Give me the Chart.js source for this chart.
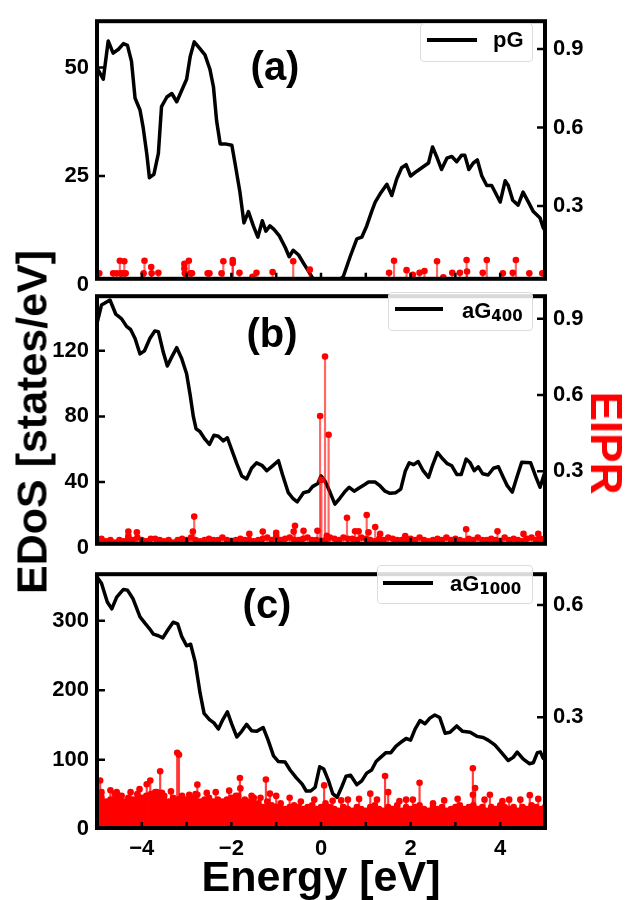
<!DOCTYPE html>
<html>
<head>
<meta charset="utf-8">
<script src="https://cdn.jsdelivr.net/npm/chart.js@4.4.0/dist/chart.umd.min.js"></script>
<style>
  body { margin: 0; background: #fff; width: 635px; height: 900px; position: relative; overflow: hidden;
         font-family: "Liberation Sans", Arial, sans-serif; font-weight: bold; color: #000; }
  canvas { position: absolute; left: 0; }
  .txt { position: absolute; line-height: 1; white-space: nowrap; transform: translate(-50%, -50%); }
  .panel { font-size: 40px; }
  .legbox { position: absolute; border: 1px solid #dcdcdc; border-radius: 4px; background: rgba(255,255,255,0.85); box-sizing: border-box; }
  .legline { position: absolute; height: 4px; background: #000; }
  .legtxt { position: absolute; font-size: 22px; line-height: 1; white-space: nowrap; }
  .legtxt sub { font-family: "DejaVu Sans", sans-serif; font-size: 15px; vertical-align: -3px; }
</style>
</head>
<body>
<canvas id="chartA" width="635" height="300" style="top:0px"></canvas>
<canvas id="chartB" width="635" height="290" style="top:275px"></canvas>
<canvas id="chartC" width="635" height="347" style="top:553px"></canvas>

<div class="txt panel" style="left:275px;top:66px">(a)</div>
<div class="txt panel" style="left:272px;top:333px">(b)</div>
<div class="txt panel" style="left:267px;top:604px">(c)</div>

<div class="legbox" style="left:420px;top:23px;width:113px;height:39px"></div>
<div class="legline" style="left:427px;top:38px;width:50px"></div>
<div class="legtxt" style="left:493px;top:29px">pG</div>

<div class="legbox" style="left:388px;top:292px;width:145px;height:39px"></div>
<div class="legline" style="left:395px;top:307px;width:48px"></div>
<div class="legtxt" style="left:462px;top:300px">aG<sub>400</sub></div>

<div class="legbox" style="left:377px;top:565px;width:156px;height:39px"></div>
<div class="legline" style="left:383px;top:581px;width:50px"></div>
<div class="legtxt" style="left:450px;top:573px">aG<sub>1000</sub></div>

<div class="txt" style="left:32px;top:422px;font-size:43px;transform:translate(-50%,-50%) rotate(-90deg)">EDoS [states/eV]</div>
<div class="txt" style="left:606px;top:443px;font-size:44px;color:#ff0000;transform:translate(-50%,-50%) rotate(90deg)">EIPR</div>
<div class="txt" style="left:321px;top:876px;font-size:43px">Energy [eV]</div>

<script>
// x ticks (inward, every 1 eV)
const xMinorTicks = [-4, -3, -2, -1, 0, 1, 2, 3, 4];

// (a) pG: density of states
const dosAx = [-5.0, -4.86, -4.75, -4.64, -4.52, -4.41, -4.32, -4.23, -4.15, -4.04, -3.97, -3.89, -3.83, -3.73, -3.63, -3.56, -3.44, -3.33, -3.22, -3.11,
  -3.0, -2.92, -2.83, -2.74, -2.59, -2.48, -2.4, -2.33, -2.25, -2.14, -1.99, -1.92, -1.81, -1.72, -1.62, -1.51, -1.41, -1.31, -1.23, -1.14,
  -1.05, -0.93, -0.8, -0.71, -0.62, -0.5, -0.39, -0.28, -0.17, -0.1, 0.3, 0.5, 0.65, 0.8, 0.91, 1.02, 1.13, 1.21, 1.32, 1.47,
  1.58, 1.69, 1.8, 1.9, 2.0, 2.14, 2.25, 2.4, 2.49, 2.58, 2.69, 2.81, 2.92, 3.03, 3.14, 3.21, 3.3, 3.4, 3.49, 3.59,
  3.7, 3.81, 4.0, 4.11, 4.18, 4.28, 4.4, 4.51, 4.63, 4.74, 4.89, 4.96, 5.0];
const dosAy = [49.9, 47.3, 56.1, 53.3, 54.2, 55.5, 55.1, 51.4, 42.9, 40.2, 36.2, 30.2, 24.6, 25.4, 30.2, 41, 43.2, 44, 42.1, 44.7,
  47.3, 52.5, 55.9, 54.8, 52.9, 49.6, 45.5, 37.7, 32.4, 32.4, 32.1, 28, 21.3, 14.2, 16.8, 13.5, 10.9, 14.7, 12.3, 13.5,
  12.7, 11.2, 8.6, 6.4, 7.9, 6.8, 4.9, 3.1, 1.2, 0, 0, 1.9, 6.4, 10.5, 10.9, 13.5, 16.8, 19, 20.9, 23.1,
  20.5, 24.3, 26.9, 27.6, 25, 26.1, 26.9, 28, 31.7, 29.5, 26.5, 29.1, 29.5, 28.3, 29.8, 29.8, 26.5, 28, 28.7, 25,
  22.8, 22.8, 19, 23.9, 22.8, 19.4, 18.3, 21.3, 19, 16.8, 15.3, 13.1, 12.5];

// (a) EIPR states
const eiprAx = [-4.95, -4.64, -4.56, -4.49, -4.47, -4.43, -4.39, -4.36, -3.96, -3.94, -3.79, -3.78, -3.63, -3.05, -3.05, -3.04, -2.95, -2.91, -2.88, -2.53,
  -2.49, -2.22, -2.18, -1.97, -1.97, -1.82, -1.53, -1.44, -1.08, -0.62, -0.25, 1.52, 1.63, 1.91, 2.05, 2.2, 2.31, 2.59, 2.73, 2.93,
  3.1, 3.25, 3.26, 3.61, 3.7, 4.06, 4.28, 4.35, 4.65, 4.94];
const eiprAv = [0.043, 0.043, 0.043, 0.091, 0.043, 0.043, 0.089, 0.043, 0.043, 0.091, 0.067, 0.043, 0.045, 0.079, 0.061, 0.043, 0.091, 0.043, 0.043, 0.043,
  0.043, 0.043, 0.089, 0.094, 0.082, 0.045, 0.030, 0.045, 0.048, 0.089, 0.057, 0.045, 0.091, 0.055, 0.037, 0.045, 0.052, 0.089, 0.028, 0.045,
  0.045, 0.094, 0.050, 0.045, 0.094, 0.043, 0.045, 0.094, 0.043, 0.043];

// (b) aG400: density of states
const dosBx = [-5.0, -4.9, -4.71, -4.58, -4.45, -4.34, -4.25, -4.15, -4.04, -3.94, -3.82, -3.71, -3.63, -3.52, -3.43, -3.33, -3.22, -3.11, -3.0, -2.92,
  -2.85, -2.79, -2.7, -2.59, -2.49, -2.39, -2.29, -2.18, -2.09, -1.99, -1.88, -1.77, -1.66, -1.55, -1.44, -1.32, -1.21, -1.08, -0.95, -0.86,
  -0.73, -0.63, -0.53, -0.39, -0.27, -0.19, -0.07, 0.0, 0.09, 0.2, 0.31, 0.42, 0.54, 0.63, 0.74, 0.85, 0.96, 1.06, 1.21, 1.32,
  1.43, 1.54, 1.67, 1.78, 1.88, 1.97, 2.07, 2.17, 2.28, 2.4, 2.49, 2.6, 2.72, 2.82, 2.92, 3.03, 3.13, 3.24, 3.33, 3.42,
  3.51, 3.61, 3.73, 3.85, 3.96, 4.07, 4.16, 4.27, 4.37, 4.48, 4.68, 4.8, 4.89, 4.98];
const dosBy = [136.7, 147.9, 151, 142.3, 139.5, 134.9, 133, 127.5, 118.1, 120, 127.5, 132.1, 131.7, 119.1, 110.7, 116.3, 121.9, 115.3, 106, 93,
  80, 72.5, 70.7, 66.1, 62.9, 68.5, 67.9, 65.1, 67, 59.5, 51.2, 43.7, 41.9, 48.4, 51.7, 50.2, 46.9, 49.9, 53, 44.6,
  33.5, 30.1, 27.9, 33.5, 34.4, 37.2, 39.1, 43.8, 40.6, 33.9, 26.5, 30.1, 34.4, 36.8, 34.4, 36.3, 38.2, 40, 40, 37.6,
  34.4, 33.1, 33.5, 35.7, 46.5, 51.7, 50.6, 52.5, 46.9, 42.8, 50.2, 58, 54, 51.2, 49.9, 44.6, 44.6, 54, 51.7, 46.9,
  49.3, 45, 44.3, 48.4, 49.3, 42.8, 37.6, 33.9, 42.8, 52.1, 51.7, 42.8, 36.8, 44.6];

// energy grid of the low-lying EIPR states in (b) and (c)
const stateGrid = [-5.0, -4.9, -4.8, -4.7, -4.6, -4.5, -4.4, -4.3, -4.2, -4.1, -4.0, -3.9, -3.8, -3.7, -3.6, -3.5, -3.4, -3.3, -3.2, -3.1,
  -3.0, -2.9, -2.8, -2.7, -2.6, -2.5, -2.4, -2.3, -2.2, -2.1, -2.0, -1.9, -1.8, -1.7, -1.6, -1.5, -1.4, -1.3, -1.2, -1.1,
  -1.0, -0.9, -0.8, -0.7, -0.6, -0.5, -0.4, -0.3, -0.2, -0.1, 0.0, 0.1, 0.2, 0.3, 0.4, 0.5, 0.6, 0.7, 0.8, 0.9,
  1.0, 1.1, 1.2, 1.3, 1.4, 1.5, 1.6, 1.7, 1.8, 1.9, 2.0, 2.1, 2.2, 2.3, 2.4, 2.5, 2.6, 2.7, 2.8, 2.9,
  3.0, 3.1, 3.2, 3.3, 3.4, 3.5, 3.6, 3.7, 3.8, 3.9, 4.0, 4.1, 4.2, 4.3, 4.4, 4.5, 4.6, 4.7, 4.8, 4.9, 5.0];

// (b) EIPR: low states on the grid, then the larger ones
const eiprBlow = [0.03, 0.035, 0.025, 0.03, 0.02, 0.03, 0.025, 0.035, 0.03, 0.04,
  0.03, 0.025, 0.035, 0.035, 0.03, 0.025, 0.03, 0.02, 0.03, 0.035,
  0.03, 0.04, 0.03, 0.025, 0.03, 0.035, 0.03, 0.03, 0.04, 0.03,
  0.025, 0.03, 0.035, 0.03, 0.03, 0.025, 0.03, 0.035, 0.04, 0.03,
  0.045, 0.03, 0.035, 0.04, 0.03, 0.03, 0.035, 0.04, 0.03, 0.03,
  0.025, 0.03, 0.04, 0.035, 0.03, 0.04, 0.035, 0.035, 0.03, 0.04,
  0.035, 0.03, 0.025, 0.035, 0.03, 0.04, 0.035, 0.03, 0.03, 0.025,
  0.035, 0.03, 0.04, 0.03, 0.025, 0.03, 0.035, 0.03, 0.04, 0.03,
  0.035, 0.03, 0.025, 0.035, 0.03, 0.04, 0.03, 0.03, 0.035, 0.03,
  0.025, 0.04, 0.03, 0.035, 0.03, 0.025, 0.035, 0.04, 0.03, 0.035, 0.03];
const eiprBx = [-0.02, 0.01, 0.09, 0.17, -4.3, -4.3, -4.11, -2.86, -2.83, -1.6, -1.3, -1.0, -0.61, -0.58, -0.39, -0.08, 0.13, 0.58, 0.76, 0.84,
  1.02, 1.06, 1.21, 1.32, 1.88, 3.24, 3.94, 4.52, 4.85];
const eiprBv = [0.518, 0.266, 0.752, 0.444, 0.063, 0.045, 0.06, 0.063, 0.122, 0.054, 0.063, 0.058, 0.063, 0.086, 0.066, 0.066, 0.046, 0.117, 0.064, 0.064,
  0.128, 0.06, 0.081, 0.054, 0.045, 0.072, 0.064, 0.054, 0.054];

// (c) aG1000: density of states
const dosCx = [-5.0, -4.9, -4.77, -4.67, -4.56, -4.41, -4.32, -4.2, -4.04, -3.93, -3.83, -3.74, -3.63, -3.53, -3.42, -3.3, -3.2, -3.11, -3.0, -2.91,
  -2.81, -2.7, -2.61, -2.49, -2.39, -2.29, -2.19, -2.09, -1.99, -1.88, -1.77, -1.66, -1.55, -1.44, -1.29, -1.18, -1.06, -0.95, -0.8, -0.69,
  -0.55, -0.42, -0.33, -0.23, -0.13, -0.03, 0.06, 0.17, 0.26, 0.36, 0.46, 0.56, 0.66, 0.8, 0.91, 1.02, 1.13, 1.23, 1.33, 1.45,
  1.56, 1.67, 1.8, 1.9, 2.0, 2.1, 2.21, 2.32, 2.43, 2.54, 2.65, 2.77, 2.88, 3.03, 3.16, 3.33, 3.48, 3.62, 3.73, 3.88,
  4.03, 4.18, 4.29, 4.38, 4.51, 4.65, 4.74, 4.83, 4.9, 4.96];
const dosCy = [363, 354, 327, 317, 334, 345, 344, 332, 305.5, 296.5, 288.7, 280.6, 278.4, 275.2, 286.6, 297.8, 295.5, 277.5, 263.9, 266.2,
  241.2, 196.1, 166.6, 157.7, 153, 144.1, 157.7, 169, 150.9, 132.7, 140.8, 150.9, 141.8, 140.8, 146.3, 128.2, 105.6, 97.4, 96.6, 85.2,
  73.9, 64.9, 55, 55, 60.4, 89.8, 86.6, 69.5, 51.3, 45.9, 60.4, 76.3, 77.6, 64, 69.5, 80.7, 85.2, 97.4, 103.4, 110.2,
  110.2, 119.1, 125.9, 130.5, 128.2, 144.1, 156.3, 151.7, 159.8, 164.4, 160.8, 138.1, 139.5, 148.6, 140.8, 139.5, 133.6, 131.9, 128.2, 121.4,
  110.2, 98.8, 103.4, 111, 101.1, 94.3, 95.7, 110.2, 111, 102];

// (c) EIPR: dense low states on the grid, then the larger ones
const eiprClow = [0.085, 0.1, 0.075, 0.08, 0.095, 0.09, 0.075, 0.085, 0.08, 0.095,
  0.085, 0.09, 0.095, 0.1, 0.085, 0.09, 0.075, 0.085, 0.08, 0.09,
  0.08, 0.085, 0.095, 0.075, 0.08, 0.085, 0.075, 0.08, 0.075, 0.08,
  0.085, 0.09, 0.075, 0.08, 0.075, 0.085, 0.07, 0.06, 0.075, 0.065,
  0.06, 0.07, 0.055, 0.06, 0.065, 0.06, 0.055, 0.06, 0.065, 0.055,
  0.06, 0.07, 0.06, 0.055, 0.05, 0.06, 0.055, 0.05, 0.06, 0.055,
  0.05, 0.06, 0.065, 0.055, 0.05, 0.06, 0.055, 0.065, 0.05, 0.06,
  0.055, 0.06, 0.065, 0.055, 0.05, 0.06, 0.055, 0.06, 0.05, 0.055,
  0.06, 0.065, 0.055, 0.06, 0.065, 0.055, 0.06, 0.05, 0.06, 0.055,
  0.065, 0.06, 0.055, 0.06, 0.05, 0.06, 0.055, 0.065, 0.06, 0.055, 0.06];
const eiprCx = [-4.93, -4.9, -4.56, -4.45, -3.89, -3.81, -3.66, -3.59, -3.55, -3.21, -3.17, -2.94, -2.76, -2.76, -1.85, -1.81, -1.8, -1.55, -1.23, -1.14,
  -1.0, -0.7, 0.07, 0.26, 0.6, 1.1, 1.43, 1.5, 1.9, 2.2, 2.5, 3.39, 3.39, 3.44, 3.77, 4.2, 4.66,
  -4.7, -4.25, -4.05, -3.35, -2.55, -2.35, -2.05, -1.35, -0.45, -0.15, 0.45, 0.85, 1.25, 1.75, 2.05, 2.75, 3.05, 3.65, 4.05, 4.45, 4.85];
const eiprCv = [0.131, 0.086, 0.1, 0.09, 0.121, 0.131, 0.1, 0.156, 0.098, 0.205, 0.2, 0.093, 0.12, 0.093, 0.09, 0.138, 0.11, 0.09, 0.134, 0.096,
  0.09, 0.085, 0.118, 0.077, 0.08, 0.096, 0.143, 0.1, 0.08, 0.125, 0.07, 0.164, 0.093, 0.111, 0.093, 0.08, 0.092,
  0.105, 0.1, 0.108, 0.102, 0.098, 0.1, 0.104, 0.085, 0.075, 0.08, 0.078, 0.082, 0.08, 0.076, 0.08, 0.078, 0.082, 0.08, 0.076, 0.08, 0.082];

const pts = (xs, ys) => xs.map((x, i) => ({ x: x, y: ys[i] }));
const tickFont = { family: 'Liberation Sans', size: 22, weight: 'bold' };

// white plot face, thick frame and inward ticks like matplotlib
const framePlugin = {
  id: 'frame',
  beforeDraw(chart) {
    const a = chart.chartArea, ctx = chart.ctx;
    ctx.save();
    ctx.fillStyle = '#fff';
    ctx.fillRect(a.left - 2, a.top - 2, a.right - a.left + 4, a.bottom - a.top + 4);
    ctx.restore();
  },
  afterDraw(chart) {
    const a = chart.chartArea, ctx = chart.ctx, s = chart.scales;
    ctx.save();
    ctx.strokeStyle = '#000';
    ctx.lineWidth = 2.5;
    ctx.beginPath();
    s.y.ticks.forEach(t => {
      const p = s.y.getPixelForValue(t.value);
      if (p > a.top + 2 && p < a.bottom - 2) { ctx.moveTo(a.left, p); ctx.lineTo(a.left + 8, p); }
    });
    s.y1.ticks.forEach(t => {
      const p = s.y1.getPixelForValue(t.value);
      if (p > a.top + 2 && p < a.bottom - 2) { ctx.moveTo(a.right, p); ctx.lineTo(a.right - 8, p); }
    });
    xMinorTicks.forEach(v => {
      const p = s.x.getPixelForValue(v);
      ctx.moveTo(p, a.bottom); ctx.lineTo(p, a.bottom - 6);
    });
    ctx.stroke();
    ctx.lineWidth = 4;
    ctx.strokeRect(a.left, a.top, a.right - a.left, a.bottom - a.top);
    ctx.restore();
  }
};

function makePanel(id, o) {
  const canvas = document.getElementById(id);
  const datasets = [];
  o.stems.forEach(st => {
    datasets.push({
      type: 'line', data: pts(st.x, st.v), yAxisID: 'y1', showLine: false,
      pointRadius: 3.3, pointBackgroundColor: '#ff0000', pointBorderWidth: 0, order: 0
    });
    datasets.push({
      type: 'bar', data: pts(st.x, st.v), yAxisID: 'y1', backgroundColor: st.color,
      borderWidth: 0, barThickness: st.width, grouped: false, order: 1
    });
  });
  datasets.push({
    type: 'line', data: pts(o.dosX, o.dosY), yAxisID: 'y', borderColor: '#000', borderWidth: 3.5,
    pointRadius: 0, tension: 0, borderJoinStyle: 'round', borderCapStyle: 'round', order: 2
  });

  return new Chart(canvas, {
    type: 'line',
    data: { datasets: datasets },
    options: {
      responsive: false,
      animation: false,
      layout: { padding: { top: o.top, left: 0, right: 0, bottom: 0 } },
      plugins: { legend: { display: false }, tooltip: { enabled: false } },
      scales: {
        x: {
          type: 'linear', min: -5, max: 5, offset: false,
          grid: { display: false, drawTicks: false }, border: { display: false },
          ticks: {
            display: o.showX, stepSize: 1, autoSkip: false, padding: 8, color: '#000', font: tickFont,
            callback: v => (v % 2 === 0 && Math.abs(v) < 5) ? (v < 0 ? '\u2212' + Math.abs(v) : String(v)) : ''
          },
          afterFit: sc => { sc.height = canvas.height - o.bottom; }
        },
        y: {
          position: 'left', min: o.yMin, max: o.yMax,
          grid: { display: false, drawTicks: false }, border: { display: false },
          ticks: { padding: 8, color: '#000', font: tickFont, autoSkip: false },
          afterBuildTicks: sc => { sc.ticks = o.yTicks.map(v => ({ value: v })); },
          afterFit: sc => { sc.width = 97; }
        },
        y1: {
          position: 'right', min: o.y1Min, max: o.y1Max,
          grid: { display: false, drawTicks: false }, border: { display: false },
          ticks: { padding: 8, color: '#000', font: tickFont, autoSkip: false, callback: v => v.toFixed(1) },
          afterBuildTicks: sc => { sc.ticks = o.y1Ticks.map(v => ({ value: v })); },
          afterFit: sc => { sc.width = 90; }
        }
      }
    },
    plugins: [framePlugin]
  });
}

makePanel('chartA', {
  top: 10, bottom: 279, showX: false,
  yMin: 1.32, yMax: 60.66, yTicks: [0, 25, 50],
  y1Min: 0.022, y1Max: 1.006, y1Ticks: [0.3, 0.6, 0.9],
  dosX: dosAx, dosY: dosAy,
  stems: [{ x: eiprAx, v: eiprAv, color: 'rgba(255,0,0,0.6)', width: 1.5 }]
});

makePanel('chartB', {
  top: 7, bottom: 277.5, showX: false,
  yMin: 2.34, yMax: 153.3, yTicks: [0, 40, 80, 120],
  y1Min: 0.015, y1Max: 0.989, y1Ticks: [0.3, 0.6, 0.9],
  dosX: dosBx, dosY: dosBy,
  stems: [
    { x: stateGrid, v: eiprBlow, color: 'rgba(255,0,0,0.6)', width: 1.5 },
    { x: eiprBx, v: eiprBv, color: 'rgba(255,0,0,0.6)', width: 1.5 }
  ]
});

makePanel('chartC', {
  top: 6, bottom: 275, showX: true,
  yMin: 1.76, yMax: 366.9, yTicks: [0, 100, 200, 300],
  y1Min: 0.0043, y1Max: 0.682, y1Ticks: [0.3, 0.6],
  dosX: dosCx, dosY: dosCy,
  stems: [
    { x: stateGrid, v: eiprClow, color: '#ff0000', width: 4.6 },
    { x: eiprCx, v: eiprCv, color: 'rgba(255,0,0,0.75)', width: 1.5 }
  ]
});
</script>
</body>
</html>
